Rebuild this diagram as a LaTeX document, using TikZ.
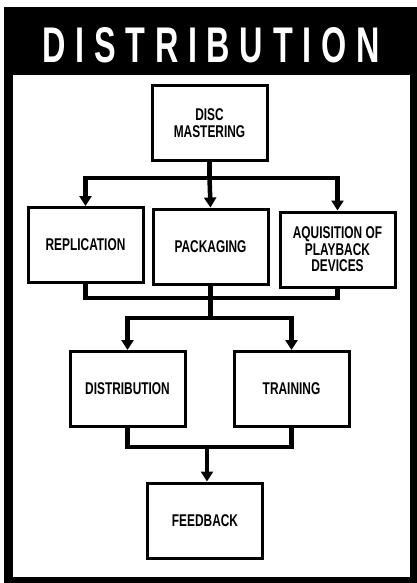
\documentclass[tikz,border=0pt]{standalone}
\usepackage{fontspec}
\setmainfont{Liberation Sans}
\newfontfamily\labfont{Liberation Sans}[FakeStretch=0.7]
\newfontfamily\titlefont{Liberation Sans}[LetterSpace=30]
\usetikzlibrary{arrows.meta}
\begin{document}
\begin{tikzpicture}[x=1pt,y=-1pt,
  box/.style={draw,line width=3pt,minimum width=115pt,minimum height=75pt,inner sep=0pt,align=center,
    font=\labfont\bfseries\fontsize{17}{16.5}\selectfont},
  conn/.style={line width=4.5pt,line join=miter},
  arr/.style={conn,-{Triangle[width=12pt,length=10pt]}}]
\useasboundingbox (0,0) rectangle (417,583);
\fill[white] (0,0) rectangle (417,583);
% frame
\fill[black] (4,7) rectangle (417,583);
\fill[white] (13,75) rectangle (410,577);
\node[text=white,inner sep=0pt] (title) at (211,45.5)
  {\resizebox{337pt}{35pt}{\titlefont\bfseries DISTRIBUTION}};
% boxes
\node[box] (m) at (209.5,123) {DISC\\MASTERING};
\node[box] (rep) at (85.5,245) {REPLICATION};
\node[box] (pack) at (210.5,246.5) {PACKAGING};
\node[box] (aq) at (337.5,249.5) {AQUISITION OF\\PLAYBACK\\DEVICES};
\node[box] (dist) at (127.5,389) {DISTRIBUTION};
\node[box] (train) at (291.5,389) {TRAINING};
\node[box] (fb) at (205,520.5) {FEEDBACK};
% junctions
\coordinate (j1) at (209.5,178);
\coordinate (j2) at (210.5,298);
\coordinate (j3) at (210.5,318);
\coordinate (j4) at (207,447);
% connectors
\draw[conn] (m.south) -- (j1);
\draw[arr] (j1) -| (rep.north);
\draw[arr] (j1) -- (pack.north);
\draw[arr] (j1) -| (aq.north);
\draw[conn] (rep.south) |- (j2) -| (aq.south);
\draw[conn] (pack.south) -- (j3);
\draw[arr] (j3) -| (dist.north);
\draw[arr] (j3) -| (train.north);
\draw[conn] (dist.south) |- (j4) -| (train.south);
\draw[arr] (j4) -- (j4 |- fb.north);
\end{tikzpicture}
\end{document}
